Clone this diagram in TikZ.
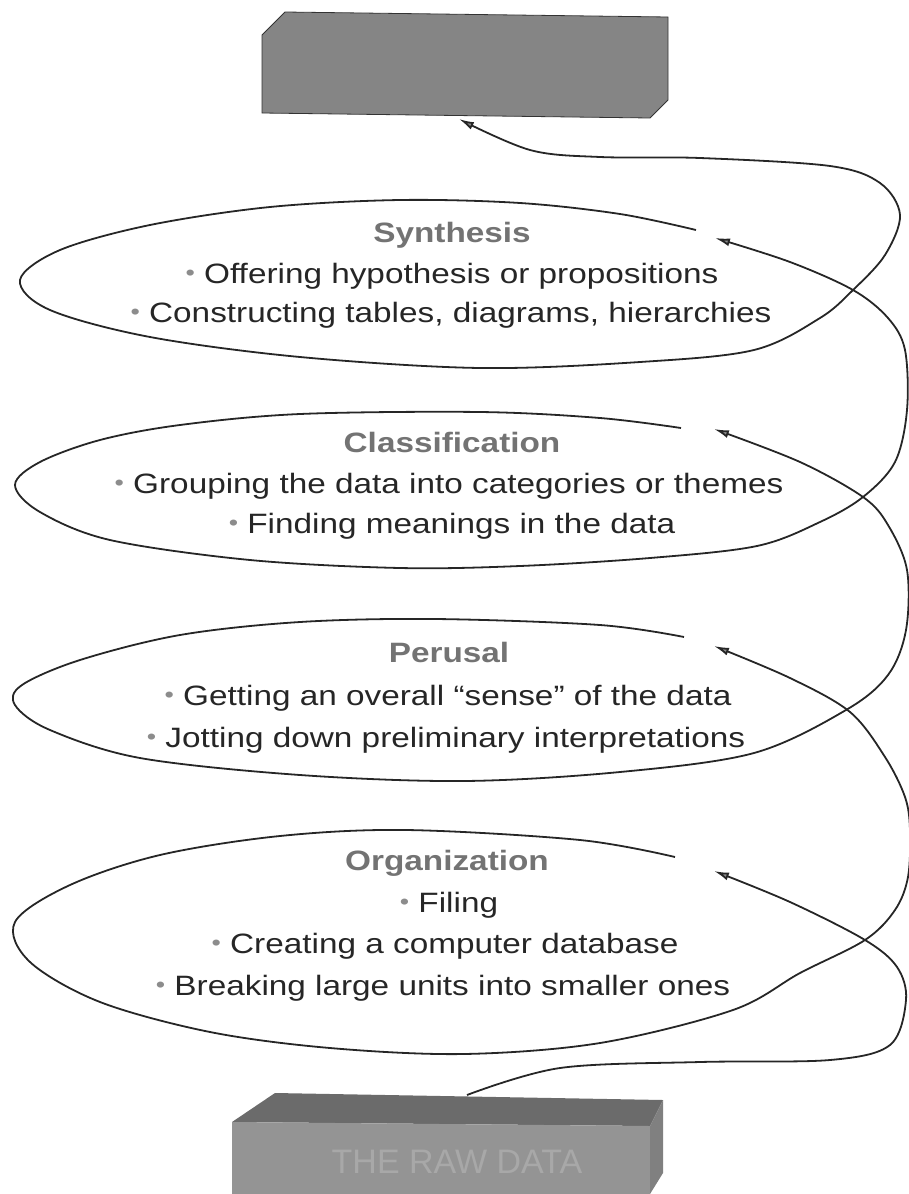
\documentclass[tikz,border=0pt]{standalone}
\usepackage{fontspec,graphicx}
\setmainfont{Liberation Sans}
\usetikzlibrary{arrows.meta}
\newcommand{\blt}{{\color{black!45}\raisebox{.1em}{\scalebox{.8}{•}}}\ }

\begin{document}
\begin{tikzpicture}[x=1pt,y=-1pt,line width=1.8pt,
  head/.style={anchor=base,inner sep=0pt,xscale=1.19,text=black!55,font=\fontsize{28}{34}\selectfont\bfseries},
  item/.style={anchor=base,inner sep=0pt,xscale=1.19,text=black!85,font=\fontsize{28}{34}\selectfont},
  spiral/.style={draw=black!85,line width=1.8pt},
  tip/.style={-{Latex[length=15pt,width=8pt,fill=black!45]}}]
\path[use as bounding box] (0,0) rectangle (909,1194);

% boxes
\draw[fill=black!48,draw=black!80,line width=.8pt] (262,35) -- (285,12) -- (668,17) -- (668,100) -- (650,118) -- (262,113) -- cycle;
\fill[black!58] (232,1122) -- (275,1093) -- (663,1100) -- (650,1126) -- cycle;
\fill[black!42] (232,1122) -- (650,1126) -- (650,1194) -- (232,1194) -- cycle;
\fill[black!50] (650,1126) -- (663,1100) -- (663,1173) -- (650,1194) -- cycle;
\node[anchor=base,inner sep=0pt,text=black!34,font=\fontsize{34}{40}\selectfont] (rawTxt) at (457,1173) {THE RAW DATA};

\coordinate (rawTop) at (467,1095);
\coordinate (topIn) at (459,119);
\coordinate (orgIn) at (714,871);
\coordinate (orgOut) at (675,857);
\coordinate (perIn) at (714,646);
\coordinate (perOut) at (684,637);
\coordinate (claIn) at (714,429);
\coordinate (claOut) at (681,428);
\coordinate (synIn) at (715,238);
\coordinate (synOut) at (696,230);

% texts
\node[head] (synHead) at (452,242) {Synthesis};
\node[item] (synA) at (452,283) {\blt Offering hypothesis or propositions};
\node[item] (synB) at (451,322) {\blt Constructing tables, diagrams, hierarchies};
\node[head] (claHead) at (452,452) {Classification};
\node[item] (claA) at (449,493) {\blt Grouping the data into categories or themes};
\node[item] (claB) at (452,533) {\blt Finding meanings in the data};
\node[head] (perHead) at (449,662) {Perusal};
\node[item] (perA) at (448,705) {\blt Getting an overall “sense” of the data};
\node[item] (perB) at (446,747) {\blt Jotting down preliminary interpretations};
\node[head] (orgHead) at (447,870) {Organization};
\node[item] (orgA) at (449,912) {\blt Filing};
\node[item] (orgB) at (445,953) {\blt Creating a computer database};
\node[item] (orgC) at (443,995) {\blt Breaking large units into smaller ones};

% spiral
\draw[spiral,tip] plot[smooth,tension=.55] coordinates {(rawTop) (560,1068) (700,1062) (830,1060) (890,1045) (906,1000) (897,967) (865,940) (790,902) (orgIn)};
\draw[spiral,tip] plot[smooth,tension=.55] coordinates {(orgOut) (580,840) (406,830) (280,836) (160,855) (70,885) (15,922) (30,962) (100,1002) (210,1032) (330,1048) (464,1054) (600,1043) (733,1010) (800,973) (865,940) (895,910) (908,877) (910,830) (905,797) (885,757) (850,712) (790,678) (perIn)};
\draw[spiral,tip] plot[smooth,tension=.55] coordinates {(perOut) (600,625) (435,619) (300,622) (180,635) (80,660) (22,685) (15,705) (50,730) (140,758) (300,775) (464,781) (620,772) (754,753) (846,710) (888,675) (906,630) (907,570) (888,525) (863,497) (800,462) (claIn)};
\draw[spiral,tip] plot[smooth,tension=.55] coordinates {(claOut) (600,418) (480,412) (300,414) (180,425) (100,440) (40,462) (15,485) (40,512) (110,540) (250,560) (400,568) (520,566) (650,558) (757,546) (820,522) (863,497) (895,462) (907,410) (905,350) (888,318) (853,290) (790,262) (synIn)};
\draw[spiral,tip] plot[smooth,tension=.55] coordinates {(synOut) (620,214) (520,203) (400,200) (270,207) (150,225) (60,250) (20,280) (50,310) (150,337) (300,357) (480,368) (640,362) (754,350) (820,318) (853,290) (885,255) (900,215) (880,183) (830,166) (700,158) (600,157) (530,150) (topIn)};
\end{tikzpicture}
\end{document}
